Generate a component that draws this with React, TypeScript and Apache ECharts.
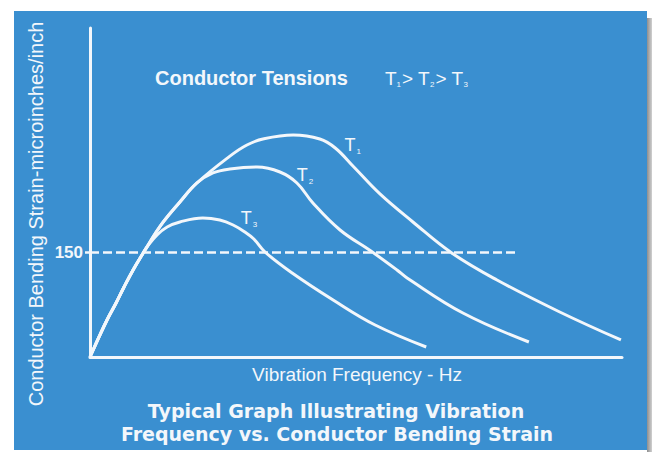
import React, { useEffect, useRef } from "react";
import * as echarts from "echarts";

// Curves: [frequency (relative, 0-100), bending strain]
const t1Values: number[][] = [
  [0, 0], [1.7, 28.6], [3.2, 52.9], [4.9, 77.1], [6.4, 100], [8.1, 124.3], [10.0, 148.6], [10.7, 157.1],
  [13.2, 187.1], [16.9, 221.4], [20.1, 248.6], [26.3, 287], [29.5, 302.9], [32.5, 311.4], [38.2, 317.1], [43.2, 311.4],
  [46.1, 298.6], [49.6, 271.4], [54.5, 232.9], [60.7, 192.9], [68.0, 148.6], [76.5, 110], [88.3, 64.3], [99.8, 24.3],
];
const t2Values: number[][] = [
  [0, 0], [1.7, 28.6], [3.2, 52.9], [4.9, 77.1], [6.4, 100], [8.1, 124.3], [10.0, 148.6], [10.7, 157.1],
  [13.2, 187.1], [16.9, 221.4], [20.1, 248.6], [23.1, 262.9], [26.3, 268.6], [31.4, 271.4], [35.7, 264.3],
  [38.9, 248.6], [41.9, 220], [47.0, 181.4], [52.8, 151.4], [57.7, 124.3], [59.6, 112.9], [70.1, 62.9], [82.5, 21.4],
];
const t3Values: number[][] = [
  [0, 0], [1.7, 28.6], [3.2, 52.9], [4.9, 77.1], [6.4, 100], [8.1, 124.3], [10.0, 148.6], [10.7, 157.1],
  [12.6, 174.3], [14.5, 185.7], [16.9, 192.9], [21.2, 198.6], [24.4, 195.7], [26.9, 188.6], [29.1, 178.6],
  [30.8, 168.6], [32.9, 150], [38.0, 120], [45.7, 81.4], [53.6, 45.7], [63.2, 14.3],
];
const seriesNames = ["T1", "T2", "T3"];
const curveLabelCoords: number[][] = [[49.4, 302.9], [40.4, 260], [29.9, 198.6]];
const thresholdValue = 150;
const thresholdEnd = 80;
const yTickValues = [150];
const titleLines = ["Typical Graph Illustrating Vibration", "Frequency vs. Conductor Bending Strain"];

const WHITE = "#f3f7fb";
const BLUE = "#3a8fd0";
const SANS = "'Liberation Sans', Arial, sans-serif";

export default function App() {
  const ref = useRef<HTMLDivElement>(null);
  useEffect(() => {
    const chart = echarts.init(ref.current!, null, { renderer: "svg" });
    const curves = [t1Values, t2Values, t3Values];
    const series: any[] = curves.map((data, i) => ({
      name: seriesNames[i],
      type: "line",
      data,
      smooth: 0.4,
      symbol: "none",
      clip: false,
      z: 5 - i,
      lineStyle: { color: WHITE, width: 3 },
      markPoint: {
        symbol: "circle",
        symbolSize: 0,
        silent: true,
        data: [{ coord: curveLabelCoords[i] }],
        label: {
          show: true,
          position: "inside",
          formatter: "T{s|" + (i + 1) + "}",
          color: WHITE,
          fontSize: 18,
          fontFamily: SANS,
          rich: { s: { fontSize: 8, color: WHITE, fontFamily: SANS, padding: [13, 0, 0, 1] } },
        },
      },
    }));
    series[0].markLine = {
      symbol: ["none", "none"],
      silent: true,
      label: { show: false },
      lineStyle: { color: WHITE, width: 2.5, type: [9, 4] },
      data: [[{ coord: [0, thresholdValue] }, { coord: [thresholdEnd, thresholdValue] }]],
    };

    chart.setOption({
      animation: false,
      backgroundColor: "#ffffff",
      grid: { left: 90, right: 30, top: 28, bottom: 95 },
      xAxis: {
        type: "value",
        min: 0,
        max: 100,
        axisLine: { show: true, lineStyle: { color: WHITE, width: 3 } },
        axisTick: { show: false },
        axisLabel: { show: false },
        splitLine: { show: false },
      },
      yAxis: {
        type: "value",
        min: 0,
        max: 470,
        axisLine: { show: true, lineStyle: { color: WHITE, width: 3 } },
        axisTick: { show: true, customValues: yTickValues, length: 5, lineStyle: { color: WHITE, width: 2.5 } },
        axisLabel: {
          show: true,
          customValues: yTickValues,
          color: WHITE,
          fontSize: 17,
          fontWeight: "bold",
          fontFamily: SANS,
          margin: 7,
        },
        splitLine: { show: false },
      },
      graphic: [
        { type: "rect", z: -10, shape: { x: 14, y: 11, width: 633, height: 439 }, style: { fill: BLUE } },
        {
          type: "rect",
          z: -10,
          shape: { x: 647, y: 18, width: 5, height: 434 },
          style: {
            fill: new echarts.graphic.LinearGradient(0, 0, 1, 0, [
              { offset: 0, color: "#8e8e8e" },
              { offset: 1, color: "#d0d0d0" },
            ]),
          },
        },
        {
          type: "text",
          x: 155,
          y: 78,
          style: {
            text: "Conductor Tensions",
            fill: WHITE,
            font: "bold 20px " + SANS,
            verticalAlign: "middle",
          },
        },
        {
          type: "text",
          x: 385,
          y: 78,
          style: {
            text: "T{s|1}> T{s|2}> T{s|3}",
            fill: WHITE,
            font: "19px " + SANS,
            verticalAlign: "middle",
            rich: { s: { fontSize: 8, fill: WHITE, padding: [13, 1, 0, 0] } },
          },
        },
        {
          type: "text",
          x: 357,
          y: 374,
          style: {
            text: "Vibration Frequency - Hz",
            fill: WHITE,
            font: "19px " + SANS,
            align: "center",
            verticalAlign: "middle",
          },
        },
        {
          type: "text",
          x: 36,
          y: 214,
          rotation: Math.PI / 2,
          style: {
            text: "Conductor Bending Strain-microinches/inch",
            fill: WHITE,
            font: "20px " + SANS,
            align: "center",
            verticalAlign: "middle",
          },
        },
        {
          type: "text",
          x: 336,
          y: 411,
          style: {
            text: titleLines[0],
            fill: WHITE,
            font: "bold 19px 'DejaVu Sans', sans-serif",
            align: "center",
            verticalAlign: "middle",
          },
        },
        {
          type: "text",
          x: 337,
          y: 434,
          style: {
            text: titleLines[1],
            fill: WHITE,
            font: "bold 19px 'DejaVu Sans', sans-serif",
            align: "center",
            verticalAlign: "middle",
          },
        },
      ],
      series,
    });
    return () => chart.dispose();
  }, []);
  return <div ref={ref} style={{ position: "absolute", left: 0, top: 0, width: 652, height: 452 }} />;
}
